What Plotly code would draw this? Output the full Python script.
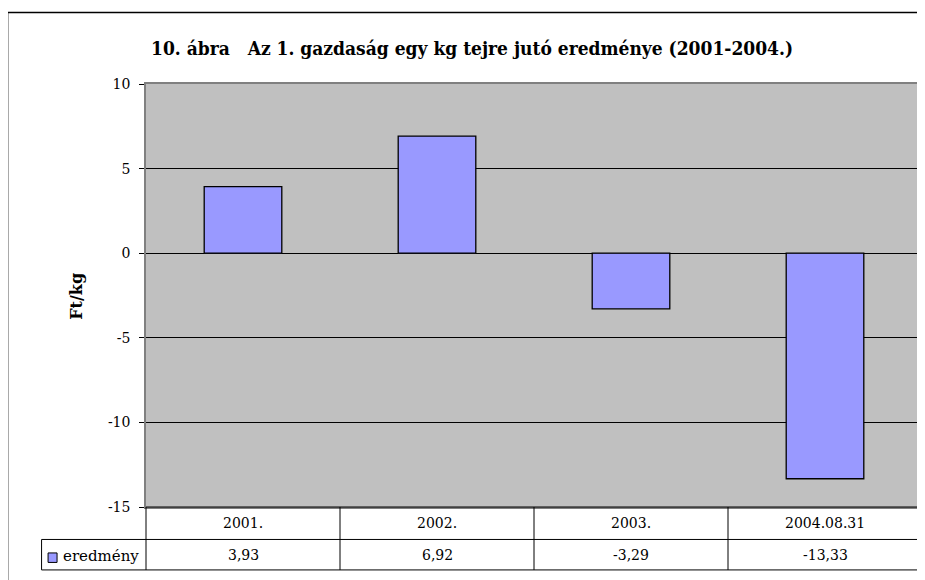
import plotly.graph_objects as go

categories = ["2001.", "2002.", "2003.", "2004.08.31"]
values = [3.93, 6.92, -3.29, -13.33]
series_name = "eredmény"
title_text = "10. ábra   Az 1. gazdaság egy kg tejre jutó eredménye (2001-2004.)"
y_title = "Ft/kg"
y_ticks = [-15, -10, -5, 0, 5, 10]

# the page body has an 8px margin, so the figure is drawn from (8, 8)
OFF = 8
W, H = 925 - OFF, 580 - OFF
L, R, T, B = 145.5 - OFF, 922 - OFF, 83.5 - OFF, 507 - OFF
pw, ph = R - L, B - T

def px(x):
    return (x - OFF - L) / pw

def py(y):
    return (B - (y - OFF)) / ph

SERIF = "DejaVu Serif"
SERIF_C = "DejaVu Serif Condensed"
BAR = "#9999FF"

xpos = list(range(len(categories)))

fig = go.Figure()
fig.add_trace(go.Bar(
    x=xpos, y=values, name=series_name,
    marker=dict(color=BAR, line=dict(color="black", width=1.3)),
    width=0.40, showlegend=False,
    customdata=categories, hovertemplate="%{customdata}: %{y}<extra></extra>",
))

shapes = []
def line(x0, y0, x1, y1, color="black", width=1):
    shapes.append(dict(type="line", xref="paper", yref="paper",
                       x0=px(x0), y0=py(y0), x1=px(x1), y1=py(y1),
                       line=dict(color=color, width=width), layer="above"))

# outer chart border
line(7, 12, 940, 12, width=1.5)
line(7, 12, 7, 600, width=1.5)

# data table
row1_top, row1_bot, row2_bot = 507, 539.5, 570
line(145.5, row1_top, 922, row1_top, width=1.2)
line(41, row1_bot, 922, row1_bot)
line(41, row2_bot, 922, row2_bot)
line(41, row1_bot, 41, row2_bot)
ncat = len(categories)
for i in range(ncat + 1):
    xx = 145.5 + (922 - 145.5) * i / ncat
    line(xx, row1_top, xx, row2_bot)

# legend key square
shapes.append(dict(type="rect", xref="paper", yref="paper",
                   x0=px(47.5), y0=py(553), x1=px(56.5), y1=py(562.5),
                   fillcolor=BAR, line=dict(color="black", width=1), layer="above"))

annotations = []
def fmt(v):
    return f"{v:.2f}".replace(".", ",")

for i, c in enumerate(categories):
    annotations.append(dict(x=xpos[i], xref="x", y=py((row1_top + row1_bot) / 2), yref="paper",
                            text=c, showarrow=False, xanchor="center", yanchor="middle",
                            font=dict(family=SERIF, size=14, color="black")))
    annotations.append(dict(x=xpos[i], xref="x", y=py((row1_bot + row2_bot) / 2), yref="paper",
                            text=fmt(values[i]), showarrow=False, xanchor="center", yanchor="middle",
                            font=dict(family=SERIF, size=14, color="black")))
annotations.append(dict(x=px(60), xref="paper", y=py(556), yref="paper",
                        text=series_name, showarrow=False, xanchor="left", yanchor="middle",
                        font=dict(family=SERIF, size=15, color="black")))
annotations.append(dict(x=px(472), xref="paper", y=py(47), yref="paper",
                        text="<b>" + title_text + "</b>", showarrow=False,
                        xanchor="center", yanchor="middle",
                        font=dict(family=SERIF_C, size=19, color="black")))
annotations.append(dict(x=px(76), xref="paper", y=py(296), yref="paper",
                        text="<b>" + y_title + "</b>", showarrow=False, textangle=-90,
                        xanchor="center", yanchor="middle",
                        font=dict(family=SERIF, size=16, color="black")))

fig.update_layout(
    width=W, height=H,
    margin=dict(l=L, r=W - R, t=T, b=H - B, pad=0, autoexpand=False),
    paper_bgcolor="white", plot_bgcolor="#C0C0C0",
    shapes=shapes, annotations=annotations,
    xaxis=dict(range=[-0.5, ncat - 0.5], showticklabels=False, ticks="", showgrid=False,
               showline=True, linecolor="#808080", linewidth=1.5, mirror=True,
               zeroline=False, fixedrange=True),
    yaxis=dict(range=[-15, 10], tickvals=y_ticks, ticktext=[str(t) for t in y_ticks],
               ticks="outside", ticklen=5, tickcolor="black", tickwidth=1,
               tickfont=dict(family=SERIF, size=14, color="black"),
               showgrid=True, gridcolor="black", gridwidth=1,
               zeroline=True, zerolinecolor="black", zerolinewidth=1,
               showline=True, linecolor="#808080", linewidth=1.5, mirror=True,
               ticklabelstandoff=6, fixedrange=True),
    font=dict(family=SERIF, color="black"),
)

fig.write_html("out.html")
